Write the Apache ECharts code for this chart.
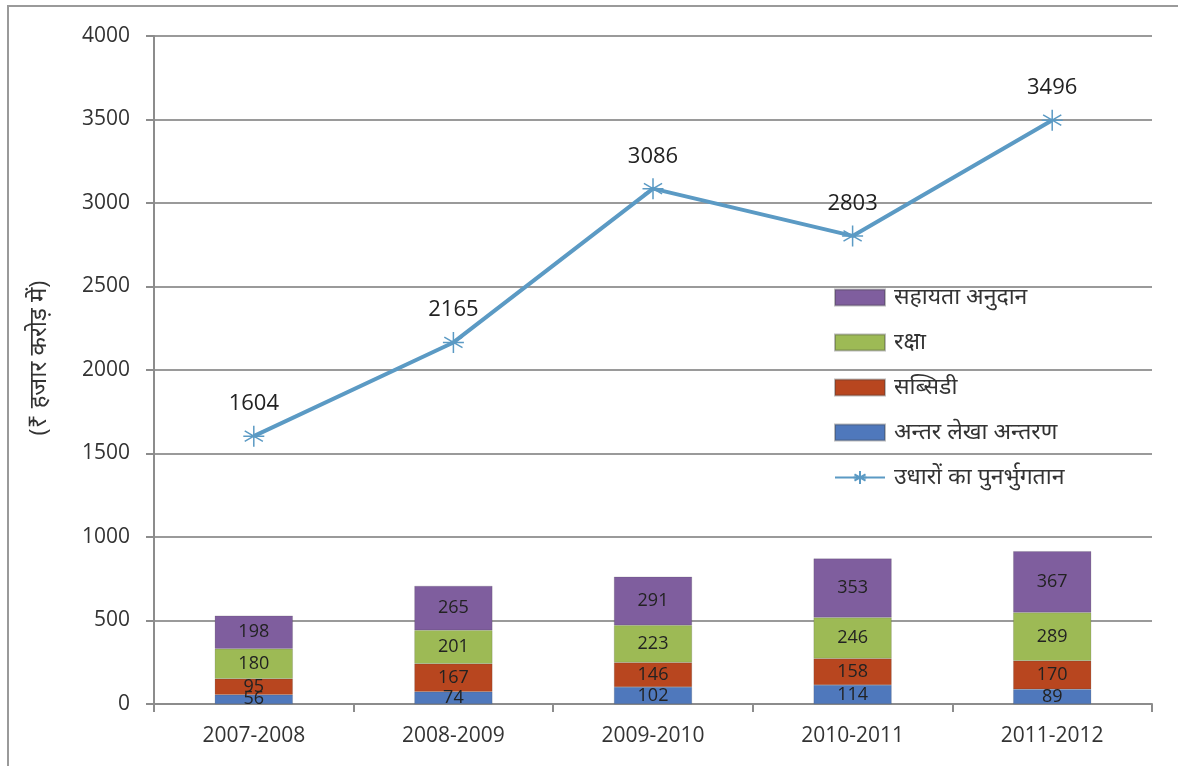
<!DOCTYPE html>
<html><head><meta charset="utf-8">
<script src="https://cdn.jsdelivr.net/npm/echarts@6/dist/echarts.min.js"></script>
<style>html,body{margin:0;padding:0;background:#fff}#c{width:1178px;height:766px}</style>
</head><body><div id="c"></div>
<script>
const categories = ['2007-2008','2008-2009','2009-2010','2010-2011','2011-2012'];
const interAccount = [56, 74, 102, 114, 89];      // अन्तर लेखा अन्तरण
const subsidy = [95, 167, 146, 158, 170];          // सब्सिडी
const defence = [180, 201, 223, 246, 289];         // रक्षा
const grants = [198, 265, 291, 353, 367];          // सहायता अनुदान
const repayment = [1604, 2165, 3086, 2803, 3496];  // उधारों का पुनर्भुगतान
const yTicks = {min: 0, max: 4000, interval: 500};

const FONT = '"Open Sans","Noto Sans","DejaVu Sans",sans-serif';
const barLabel = {show: true, position: 'inside', color: '#222', fontSize: 18, fontFamily: FONT};
function barSeries(name, data, color) {
  return {name, type: 'bar', stack: 'total', data, barWidth: 78,
    itemStyle: {color, borderColor: 'rgba(60,60,60,0.35)', borderWidth: 0.5},
    label: barLabel, emphasis: {disabled: true}};
}
const chart = echarts.init(document.getElementById('c'));
chart.setOption({
  backgroundColor: '#fff',
  animation: false,
  textStyle: {fontFamily: FONT},
  graphic: [{type: 'rect', shape: {x: 8, y: 6, width: 1180, height: 780},
    style: {fill: 'none', stroke: '#9a9a9a', lineWidth: 2}, silent: true}],
  grid: {left: 154, right: 26, top: 36, bottom: 62},
  legend: {
    orient: 'vertical', left: 829, top: 281, itemWidth: 50, itemHeight: 16, itemGap: 22,
    textStyle: {fontSize: 23, color: '#333', fontFamily: FONT, padding: [0, 0, 0, 4]},
    data: [
      {name: 'सहायता अनुदान', icon: 'rect'}, {name: 'रक्षा', icon: 'rect'}, {name: 'सब्सिडी', icon: 'rect'},
      {name: 'अन्तर लेखा अन्तरण', icon: 'rect'}, {name: 'उधारों का पुनर्भुगतान'}
    ]
  },
  xAxis: {
    type: 'category', data: categories,
    axisLine: {lineStyle: {color: '#8c8c8c', width: 2}},
    axisTick: {show: true, length: 8, lineStyle: {color: '#8c8c8c', width: 2}},
    axisLabel: {fontSize: 21, color: '#333', margin: 22, fontFamily: FONT}
  },
  yAxis: {
    type: 'value', min: yTicks.min, max: yTicks.max, interval: yTicks.interval,
    name: '(₹ हजार करोड़ में)', nameLocation: 'middle', nameGap: 103, nameRotate: 90,
    nameTextStyle: {fontSize: 24, color: '#333', fontFamily: FONT, padding: [0, 0, 0, 24]},
    axisLine: {show: true, lineStyle: {color: '#8c8c8c', width: 2}},
    axisTick: {show: true, length: 8, lineStyle: {color: '#8c8c8c', width: 2}},
    axisLabel: {fontSize: 21, color: '#333', margin: 24, fontFamily: FONT, formatter: v => String(v)},
    splitLine: {lineStyle: {color: '#9a9a9a', width: 2}}
  },
  series: [
    barSeries('अन्तर लेखा अन्तरण', interAccount, '#4f78bc'),
    barSeries('सब्सिडी', subsidy, '#b8461f'),
    barSeries('रक्षा', defence, '#9dba55'),
    barSeries('सहायता अनुदान', grants, '#7f5e9e'),
    {
      name: 'उधारों का पुनर्भुगतान', type: 'line', data: repayment,
      symbol: 'path://M0,-10L0,10M-8.66,-5L8.66,5M-8.66,5L8.66,-5M-10,0L10,0',
      symbolSize: 21,
      lineStyle: {color: '#5b9ac4', width: 4},
      itemStyle: {color: '#5b9ac4', borderColor: '#5b9ac4', borderWidth: 1.5},
      label: {show: true, position: 'top', distance: 10, fontSize: 22, color: '#222', fontFamily: FONT},
      emphasis: {disabled: true}
    }
  ]
});
</script></body></html>
